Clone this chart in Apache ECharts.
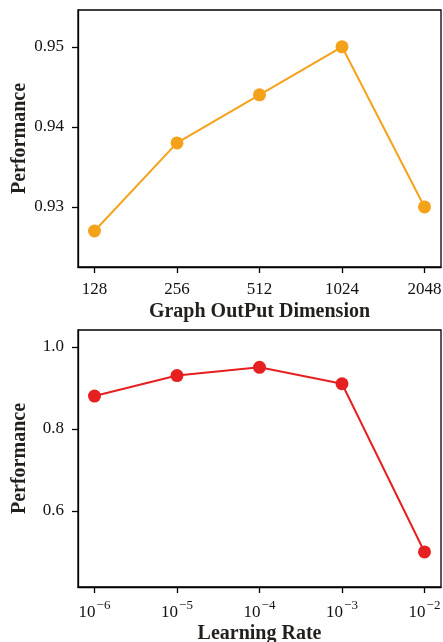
<!DOCTYPE html>
<html>
<head>
<meta charset="utf-8">
<style type="text/css">
body{margin:0; background:#fff}
#chart{width:443px; height:642px}
</style>
<script src="https://cdn.jsdelivr.net/npm/echarts@6/dist/echarts.min.js"></script>
</head>
<body>
<div id="chart"></div>
<script type="text/javascript">
// top panel: graph output dimension
var dims = [128, 256, 512, 1024, 2048];
var dimPerf = [0.927, 0.938, 0.944, 0.950, 0.930];
var dimTicks = [0.93, 0.94, 0.95];

// bottom panel: learning rate
var lrs = [1e-6, 1e-5, 1e-4, 1e-3, 1e-2];
var lrPerf = [0.88, 0.93, 0.95, 0.91, 0.50];
var lrTicks = [0.6, 0.8, 1.0];

var font = "'Liberation Serif', 'Times New Roman', serif";
var chart = echarts.init(document.getElementById("chart"));

// dims on a log2 scale, learning rates on a log10 scale
var dimX = dims.map(function(d){ return Math.log2(d); });
var lrX = lrs.map(function(v){ return Math.round(Math.log10(v)); });

function axisCommon(){
    return {
        axisLine: {show: true, lineStyle: {color: '#000', width: 1.3}},
        axisTick: {show: true, inside: false, length: 6, lineStyle: {color: '#000', width: 1.3}},
        splitLine: {show: false},
        nameMoveOverlap: false,
        nameTextStyle: {fontFamily: font, fontWeight: 'bold', fontSize: 20, color: '#231f1c'}
    };
}

var x0 = axisCommon(), x1 = axisCommon(), y0 = axisCommon(), y1 = axisCommon();

Object.assign(x0, {
    type: 'value', gridIndex: 0, min: 6.8, max: 11.2,
    name: 'Graph OutPut Dimension', nameLocation: 'middle', nameGap: 35,
    axisLabel: {customValues: dimX, margin: 14, fontFamily: font, fontSize: 17, color: '#111',
        formatter: function(v){ return String(Math.round(Math.pow(2, v))); }}
});
x0.axisTick.customValues = dimX;

Object.assign(x1, {
    type: 'value', gridIndex: 1, min: -6.2, max: -1.8,
    name: 'Learning Rate', nameLocation: 'middle', nameGap: 37,
    axisLabel: {customValues: lrX, margin: 12, fontFamily: font, color: '#111',
        formatter: function(v){ return '{b|10}{s|\u2212' + Math.abs(Math.round(v)) + '}'; },
        rich: {
            b: {fontFamily: font, fontSize: 17, color: '#111'},
            s: {fontFamily: font, fontSize: 13, color: '#111', padding: [0, 0, 14, 1]}
        }}
});
x1.axisTick.customValues = lrX;

Object.assign(y0, {
    type: 'value', gridIndex: 0, min: 0.9225, max: 0.9546,
    name: 'Performance', nameLocation: 'middle', nameGap: 48, nameRotate: 90,
    axisLabel: {customValues: dimTicks, margin: 14, fontFamily: font, fontSize: 17, color: '#111',
        formatter: function(v){ return v.toFixed(2); }}
});
y0.axisTick.customValues = dimTicks;

Object.assign(y1, {
    type: 'value', gridIndex: 1, min: 0.4146, max: 1.041,
    name: 'Performance', nameLocation: 'middle', nameGap: 48, nameRotate: 90,
    axisLabel: {customValues: lrTicks, margin: 14, fontFamily: font, fontSize: 17, color: '#111',
        formatter: function(v){ return v.toFixed(1); }}
});
y1.axisTick.customValues = lrTicks;

var option = {
    animation: false,
    grid: [
        {left: 78, top: 10, width: 363, height: 257, show: true, borderColor: '#000', borderWidth: 1.3, outerBoundsMode: 'none'},
        {left: 78, top: 330, width: 363, height: 257, show: true, borderColor: '#000', borderWidth: 1.3, outerBoundsMode: 'none'}
    ],
    xAxis: [x0, x1],
    yAxis: [y0, y1],
    series: [
        {
            type: 'line', xAxisIndex: 0, yAxisIndex: 0,
            data: dimX.map(function(x, i){ return [x, dimPerf[i]]; }),
            symbol: 'circle', symbolSize: 13,
            lineStyle: {color: '#f5a21b', width: 2},
            itemStyle: {color: '#f5a21b'}
        },
        {
            type: 'line', xAxisIndex: 1, yAxisIndex: 1,
            data: lrX.map(function(x, i){ return [x, lrPerf[i]]; }),
            symbol: 'circle', symbolSize: 13,
            lineStyle: {color: '#e62020', width: 2},
            itemStyle: {color: '#e62020'}
        }
    ]
};
chart.setOption(option);
</script>
</body>
</html>
